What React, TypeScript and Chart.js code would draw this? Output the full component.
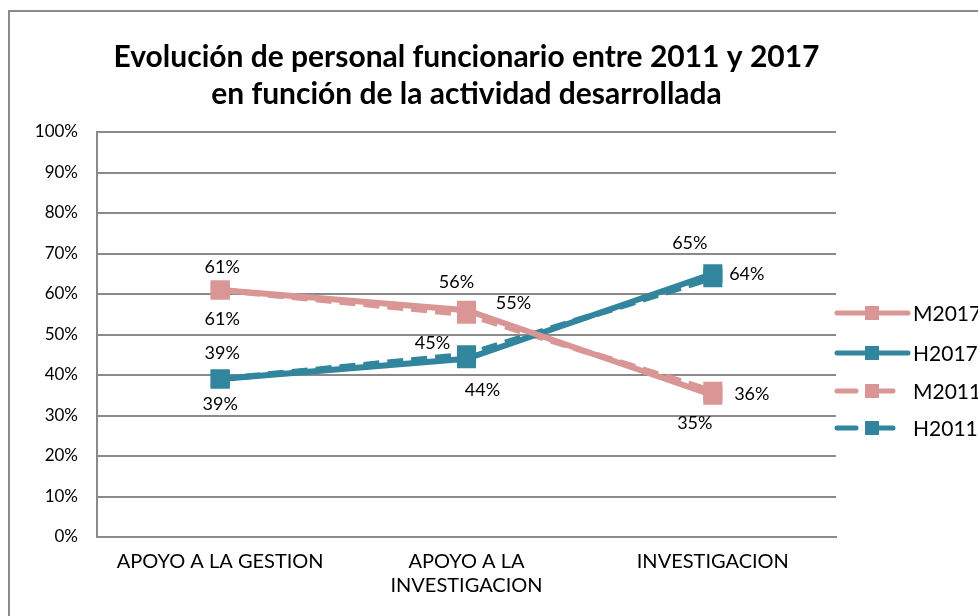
import React, { useEffect, useRef } from "react";
import { Chart, registerables } from "chart.js";

Chart.register(...registerables);

const categories: (string | string[])[] = ["APOYO A LA GESTION", ["APOYO A LA", "INVESTIGACION"], "INVESTIGACION"];
const seriesNames = ["M2017", "H2017", "M2011", "H2011"];
const m2017 = [61, 56, 35];
const h2017 = [39, 44, 65];
const m2011 = [61, 55, 36];
const h2011 = [39, 45, 64];
const yTicks = [0, 10, 20, 30, 40, 50, 60, 70, 80, 90, 100];
const titleLines = ["Evolución de personal funcionario entre 2011 y 2017", "en función de la actividad desarrollada"];

const PINK = "#D99694";
const TEAL = "#31859C";
const FONT = "Lato, 'Open Sans', sans-serif";

// label offsets (dx, dy) relative to each point, per dataset
const labelOffsets: number[][][] = [
  [[2, -23], [-10, -28], [-18, 28]],
  [[0, 25], [16, 31], [-23, -31]],
  [[2, 29], [47, -11], [39, 3]],
  [[2, -26], [-34, -12], [34, -4]],
];

const decorPlugin = {
  id: "decor",
  beforeDraw(chart: any) {
    const ctx = chart.ctx;
    ctx.save();
    ctx.fillStyle = "#fff";
    ctx.fillRect(0, 0, chart.width, chart.height);
    ctx.strokeStyle = "#8a8a8a";
    ctx.lineWidth = 2;
    ctx.strokeRect(9, 11, chart.width + 20, chart.height + 20);
    // title
    ctx.fillStyle = "#000";
    ctx.font = `bold 30px ${FONT}`;
    ctx.textAlign = "center";
    ctx.textBaseline = "middle";
    const cx = (chart.chartArea.left + chart.chartArea.right) / 2;
    ctx.fillText(titleLines[0], cx, 57);
    ctx.fillText(titleLines[1], cx, 94);
    ctx.restore();
  },
  afterDraw(chart: any) {
    const ctx = chart.ctx;
    ctx.save();
    // data labels
    ctx.fillStyle = "#000";
    ctx.font = `18px ${FONT}`;
    ctx.textAlign = "center";
    ctx.textBaseline = "middle";
    chart.data.datasets.forEach((ds: any, di: number) => {
      const meta = chart.getDatasetMeta(di);
      meta.data.forEach((pt: any, i: number) => {
        const off = labelOffsets[di][i];
        ctx.fillText(`${ds.data[i]}%`, pt.x + off[0], pt.y + off[1]);
      });
    });
    // legend
    const x0 = chart.chartArea.right - 1;
    const x1 = x0 + 73;
    const ys = [313, 353, 391, 428];
    chart.data.datasets.forEach((ds: any, di: number) => {
      const y = ys[di];
      ctx.strokeStyle = ds.borderColor;
      ctx.lineWidth = 5;
      ctx.lineCap = "round";
      if (ds.borderDash && ds.borderDash.length) {
        ctx.beginPath();
        ctx.moveTo(x0 + 2, y);
        ctx.lineTo(x0 + 21, y);
        ctx.moveTo(x0 + 42, y);
        ctx.lineTo(x0 + 58, y);
        ctx.stroke();
      } else {
        ctx.beginPath();
        ctx.moveTo(x0 + 2, y);
        ctx.lineTo(x1, y);
        ctx.stroke();
      }
      ctx.fillStyle = ds.borderColor;
      ctx.fillRect(x0 + 30, y - 7, 14, 14);
      ctx.fillStyle = "#000";
      ctx.font = `21px ${FONT}`;
      ctx.textAlign = "left";
      ctx.fillText(ds.label, x1 + 5, y + 1);
    });
    ctx.restore();
  },
};

export default function App() {
  const ref = useRef<HTMLCanvasElement | null>(null);
  useEffect(() => {
    if (!ref.current) return;
    const mk = (label: string, data: number[], color: string, dash: number[]) => ({
      label,
      data,
      borderColor: color,
      backgroundColor: color,
      borderWidth: 6,
      borderDash: dash,
      pointStyle: "rect",
      pointRadius: 13.5,
      pointHoverRadius: 13.5,
      pointBorderWidth: 0,
      tension: 0,
    });
    const chart = new Chart(ref.current, {
      type: "line",
      data: {
        labels: categories,
        datasets: [
          mk(seriesNames[0], m2017, PINK, []),
          mk(seriesNames[1], h2017, TEAL, []),
          mk(seriesNames[2], m2011, PINK, [16, 8]),
          mk(seriesNames[3], h2011, TEAL, [16, 8]),
        ],
      },
      options: {
        animation: false,
        responsive: false,
        layout: { padding: { top: 132, right: 142, left: 0, bottom: 0 } },
        plugins: {
          legend: { display: false },
          title: { display: false },
          tooltip: { enabled: false },
        },
        scales: {
          x: {
            offset: true,
            grid: { display: false, drawTicks: false },
            border: { display: true, color: "#8a8a8a", width: 2 },
            ticks: { color: "#000", font: { family: FONT, size: 20 }, padding: 13, maxRotation: 0, autoSkip: false },
            afterFit: (s: any) => { s.height = 79; },
          },
          y: {
            min: 0,
            max: 100,
            afterBuildTicks: (s: any) => { s.ticks = yTicks.map((v) => ({ value: v })); },
            grid: { color: "#8a8a8a", lineWidth: 2, drawTicks: false },
            border: { display: true, color: "#8a8a8a", width: 2 },
            ticks: { color: "#000", font: { family: FONT, size: 17 }, padding: 19, callback: (v: any) => `${v}%` },
            afterFit: (s: any) => { s.width = 97; },
          },
        },
      },
      plugins: [decorPlugin],
    } as any);
    return () => chart.destroy();
  }, []);
  return (
    <div style={{ position: "absolute", left: 0, top: 0, width: 978, height: 616 }}>
      <canvas ref={ref} width={978} height={616} />
    </div>
  );
}
